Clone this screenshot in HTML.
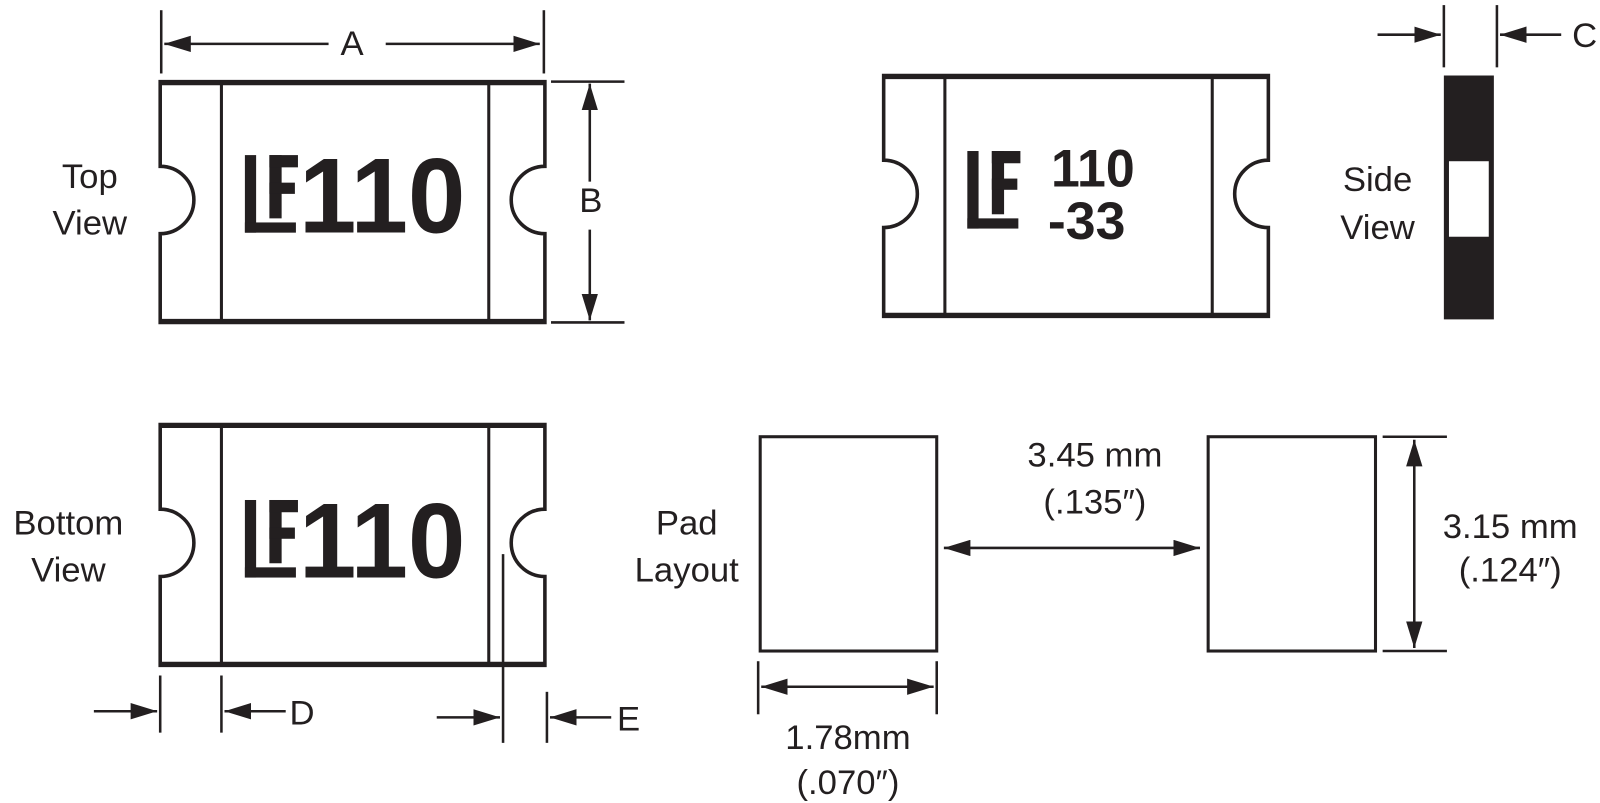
<!DOCTYPE html>
<html><head><meta charset="utf-8"><style>
html,body{margin:0;padding:0;background:#fff;}
svg{display:block;}
text{font-family:"Liberation Sans Narrow","Liberation Sans",sans-serif;fill:#231f20;}
.b{font-family:"Liberation Sans",sans-serif;font-weight:bold;}
</style></head><body>
<svg width="1600" height="803" viewBox="0 0 1600 803" xmlns="http://www.w3.org/2000/svg">
<defs>
<marker id="ah" viewBox="0 0 26 16" refX="26" refY="8" markerWidth="26" markerHeight="16" markerUnits="userSpaceOnUse" orient="auto-start-reverse">
<path d="M0,0 L26,8 L0,16 Z" fill="#231f20"/>
</marker>
<g id="comp">
<path d="M0,0 H377 V83 A33,33 0 0 0 377,149 V236 H0 V149 A33,33 0 0 0 0,83 Z" fill="none" stroke="#231f20" stroke-width="3.5"/>
<line x1="0" y1="1" x2="377" y2="1" stroke="#231f20" stroke-width="5"/>
<line x1="0" y1="235" x2="377" y2="235" stroke="#231f20" stroke-width="5"/>
<line x1="60" y1="0" x2="60" y2="236" stroke="#231f20" stroke-width="3"/>
<line x1="322" y1="0" x2="322" y2="236" stroke="#231f20" stroke-width="3"/>
</g>
<g id="lf">
<rect x="0" y="0" width="11" height="76" fill="#231f20"/>
<rect x="0" y="66" width="50" height="10" fill="#231f20"/>
<rect x="24" y="0" width="12" height="62" fill="#231f20"/>
<rect x="24" y="0" width="28" height="12" fill="#231f20"/>
<rect x="24" y="27" width="25" height="11" fill="#231f20"/>
</g>
</defs>
<g transform="scale(1.0204)">
<g stroke="#231f20" stroke-width="2.5" fill="none">
<line x1="158" y1="10" x2="158" y2="72"/>
<line x1="533" y1="10" x2="533" y2="72"/>
<line x1="161" y1="43" x2="322" y2="43" marker-start="url(#ah)"/>
<line x1="378" y1="43" x2="529" y2="43" marker-end="url(#ah)"/>
<line x1="540" y1="80" x2="612" y2="80"/>
<line x1="540" y1="316" x2="612" y2="316"/>
<line x1="578" y1="82" x2="578" y2="178" marker-start="url(#ah)"/>
<line x1="578" y1="225" x2="578" y2="314" marker-end="url(#ah)"/>
<line x1="1415" y1="5" x2="1415" y2="66"/>
<line x1="1467" y1="5" x2="1467" y2="66"/>
<line x1="1350" y1="34" x2="1412" y2="34" marker-end="url(#ah)"/>
<line x1="1530" y1="34" x2="1470" y2="34" marker-end="url(#ah)"/>
<line x1="157" y1="662" x2="157" y2="718"/>
<line x1="217" y1="662" x2="217" y2="718"/>
<line x1="493" y1="543" x2="493" y2="728"/>
<line x1="536" y1="678" x2="536" y2="728"/>
<line x1="92" y1="697" x2="154" y2="697" marker-end="url(#ah)"/>
<line x1="280" y1="697" x2="220" y2="697" marker-end="url(#ah)"/>
<line x1="428" y1="703" x2="490" y2="703" marker-end="url(#ah)"/>
<line x1="599" y1="703" x2="539" y2="703" marker-end="url(#ah)"/>
<line x1="925" y1="537" x2="1176" y2="537" marker-start="url(#ah)" marker-end="url(#ah)"/>
<line x1="1355" y1="428" x2="1418" y2="428"/>
<line x1="1355" y1="638" x2="1418" y2="638"/>
<line x1="1386" y1="431" x2="1386" y2="635" marker-start="url(#ah)" marker-end="url(#ah)"/>
<line x1="743" y1="648" x2="743" y2="700"/>
<line x1="918" y1="648" x2="918" y2="700"/>
<line x1="746" y1="673" x2="915" y2="673" marker-start="url(#ah)" marker-end="url(#ah)"/>
<rect x="745" y="428" width="173" height="210" stroke-width="3"/>
<rect x="1184" y="428" width="164" height="210" stroke-width="3"/>
</g>
<use href="#comp" x="157" y="80"/>
<use href="#comp" x="866" y="74"/>
<use href="#comp" x="157" y="416"/>
<use href="#lf" x="240" y="152"/>
<use href="#lf" x="240" y="490"/>
<use href="#lf" x="948" y="148"/>
<text class="b" x="293" y="228" font-size="105" textLength="163" lengthAdjust="spacingAndGlyphs">110</text>
<text class="b" x="293" y="566" font-size="105" textLength="163" lengthAdjust="spacingAndGlyphs">110</text>
<text class="b" x="1030" y="183" font-size="52" textLength="82" lengthAdjust="spacingAndGlyphs">110</text>
<text class="b" x="1027" y="234" font-size="52" textLength="76" lengthAdjust="spacingAndGlyphs">-33</text>
<rect x="1415" y="74" width="49" height="239" fill="#231f20"/>
<rect x="1420" y="158" width="39" height="74" fill="#fff"/>
<g font-size="34" text-anchor="middle">
<text x="345" y="54">A</text>
<text x="579" y="208">B</text>
<text x="1553" y="46">C</text>
<text x="296" y="710">D</text>
<text x="616" y="716">E</text>
<text x="88" y="184">Top</text>
<text x="88" y="230">View</text>
<text x="1350" y="187">Side</text>
<text x="1350" y="234">View</text>
<text x="67" y="524">Bottom</text>
<text x="67" y="570">View</text>
<text x="673" y="524">Pad</text>
<text x="673" y="570">Layout</text>
<text x="1073" y="457">3.45 mm</text>
<text x="1073" y="503">(.135″)</text>
<text x="1480" y="527">3.15 mm</text>
<text x="1480" y="570">(.124″)</text>
<text x="831" y="734">1.78mm</text>
<text x="831" y="778">(.070″)</text>
</g>
</g>
</svg>
</body></html>
